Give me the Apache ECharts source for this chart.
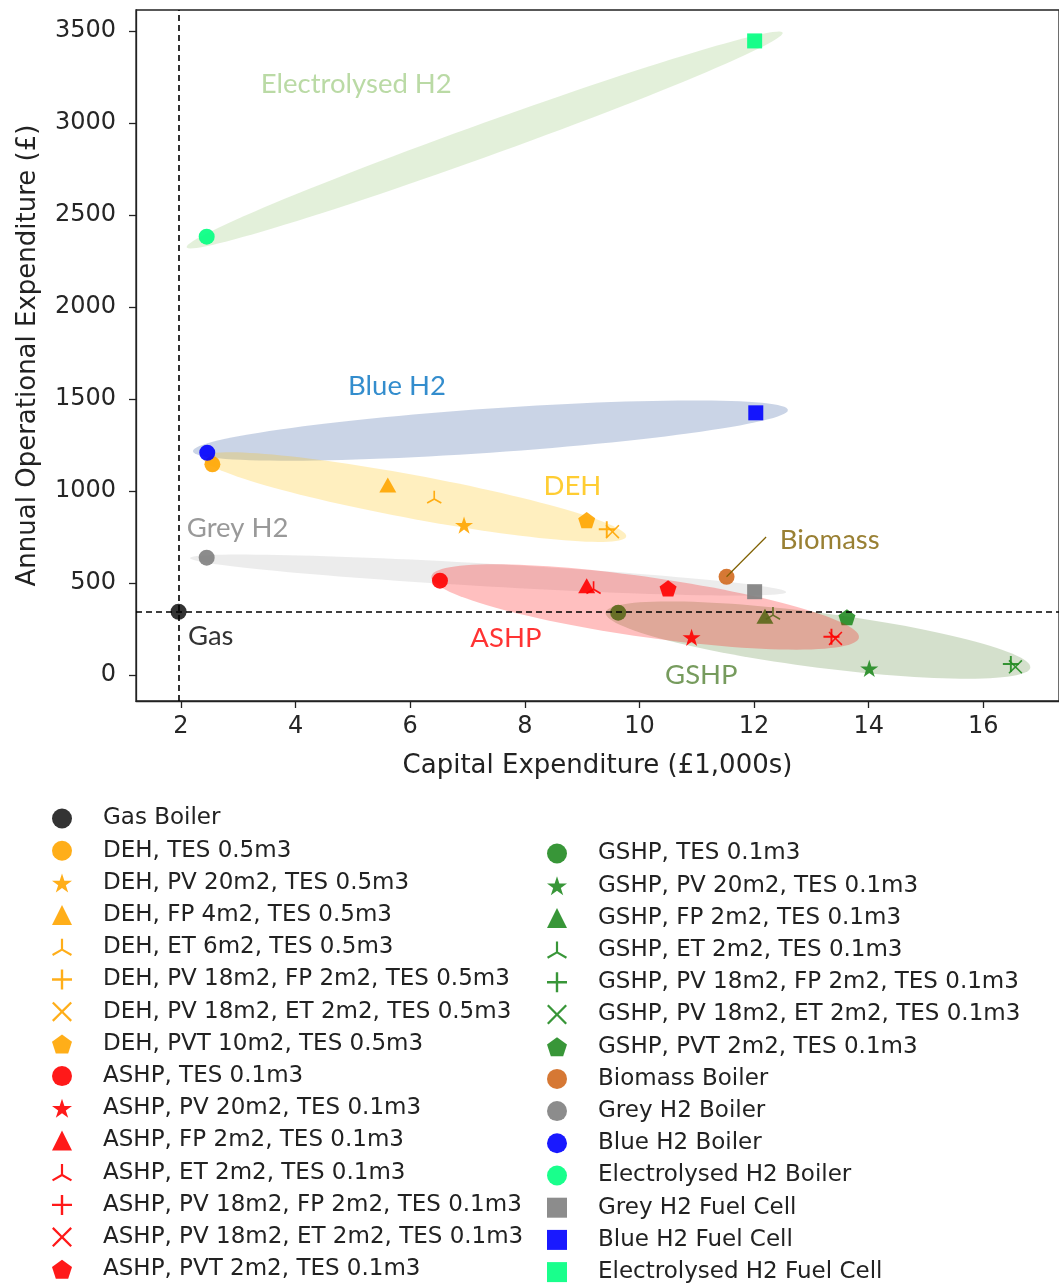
<!DOCTYPE html>
<html>
<head>
<meta charset="utf-8">
<script src="https://cdn.jsdelivr.net/npm/echarts@6/dist/echarts.min.js"></script>
<style>
  html, body { margin: 0; padding: 0; background: #fff; }
  #chart { width: 1059px; height: 1287px; }
</style>
</head>
<body>
<div id="chart"></div>
<script>
// ---- Data: capital expenditure (£1,000s) vs annual operational expenditure (£) ----
const dehNames = ['DEH, TES 0.5m3', 'DEH, PV 20m2, TES 0.5m3', 'DEH, FP 4m2, TES 0.5m3', 'DEH, ET 6m2, TES 0.5m3',
  'DEH, PV 18m2, FP 2m2, TES 0.5m3', 'DEH, PV 18m2, ET 2m2, TES 0.5m3', 'DEH, PVT 10m2, TES 0.5m3'];
const dehCapex = [2.55, 6.94, 5.61, 6.42, 9.43, 9.53, 9.08];
const dehOpex = [1145, 815, 1033, 966, 792, 779, 842];

const ashpNames = ['ASHP, TES 0.1m3', 'ASHP, PV 20m2, TES 0.1m3', 'ASHP, FP 2m2, TES 0.1m3', 'ASHP, ET 2m2, TES 0.1m3',
  'ASHP, PV 18m2, FP 2m2, TES 0.1m3', 'ASHP, PV 18m2, ET 2m2, TES 0.1m3', 'ASHP, PVT 2m2, TES 0.1m3'];
const ashpCapex = [6.52, 10.91, 9.08, 9.20, 13.35, 13.42, 10.50];
const ashpOpex = [513, 205, 485, 475, 208, 199, 471];

const gshpNames = ['GSHP, TES 0.1m3', 'GSHP, PV 20m2, TES 0.1m3', 'GSHP, FP 2m2, TES 0.1m3', 'GSHP, ET 2m2, TES 0.1m3',
  'GSHP, PV 18m2, FP 2m2, TES 0.1m3', 'GSHP, PV 18m2, ET 2m2, TES 0.1m3', 'GSHP, PVT 2m2, TES 0.1m3'];
const gshpCapex = [9.63, 14.01, 12.19, 12.33, 16.48, 16.56, 13.62];
const gshpOpex = [339, 36, 320, 335, 60, 45, 314];

const otherNames = ['Gas Boiler', 'Biomass Boiler', 'Grey H2 Boiler', 'Blue H2 Boiler', 'Electrolysed H2 Boiler',
  'Grey H2 Fuel Cell', 'Blue H2 Fuel Cell', 'Electrolysed H2 Fuel Cell'];
const otherCapex = [1.96, 11.52, 2.45, 2.46, 2.45, 12.01, 12.03, 12.01];
const otherOpex = [344, 534, 638, 1208, 2382, 453, 1425, 3446];

// Cluster envelopes: leftmost point, rightmost point, vertical half-width (data units)
const envelopeNames = ['Electrolysed H2', 'Blue H2', 'DEH', 'Grey H2', 'GSHP', 'ASHP'];
const envelopeX1 = [2.10, 2.21, 2.38, 2.16, 9.41, 6.37];
const envelopeY1 = [2326, 1217, 1179, 636, 337, 533];
const envelopeX2 = [12.50, 12.59, 9.77, 12.56, 16.82, 13.83];
const envelopeY2 = [3489, 1440, 755, 451, 43, 207];
const envelopeH = [95, 120, 120, 62, 150, 165];

// Group annotations
const annotationText = ['Electrolysed H2', 'Blue H2', 'DEH', 'Grey H2', 'Biomass', 'ASHP', 'GSHP', 'Gas'];
const annotationX = [5.06, 5.77, 8.83, 2.99, 13.32, 7.67, 11.08, 2.52];
const annotationY = [3212, 1571, 1027, 799, 734, 201, 0, 212];
const biomassLeader = [[11.52, 534], [12.21, 750]];

const xTicks = [2, 4, 6, 8, 10, 12, 14, 16];
const yTicks = [0, 500, 1000, 1500, 2000, 2500, 3000, 3500];

// ---- Styling ----
const FONT = 'DejaVu Sans';
const colors = {
  gas: '#000000', deh: '#ffa500', ashp: '#ff0000', gshp: '#228b22',
  biomass: '#d2691e', grey: '#808080', blue: '#0000ff', elec: '#00ff7f'
};
const envelopeFill = {
  'Electrolysed H2': 'rgba(169,209,142,0.33)',
  'Blue H2': 'rgba(95,125,180,0.33)',
  'DEH': 'rgba(255,192,0,0.25)',
  'Grey H2': 'rgba(170,170,170,0.22)',
  'GSHP': 'rgba(84,130,53,0.25)',
  'ASHP': 'rgba(255,0,0,0.25)'
};
const annotationColor = {
  'Electrolysed H2': '#a9d18e', 'Blue H2': '#0070c0', 'DEH': '#ffc000', 'Grey H2': '#808080',
  'Biomass': '#7f6000', 'ASHP': '#ff0000', 'GSHP': '#548235', 'Gas': '#000000'
};

// Marker shapes (matplotlib-like)
function polyPath(pts) {
  return 'path://M' + pts.map(p => p[0].toFixed(2) + ',' + p[1].toFixed(2)).join(' L') + ' Z';
}
function starPath() {
  const pts = [];
  for (let k = 0; k < 10; k++) {
    const r = k % 2 ? 19.1 : 50;
    const a = (-90 + 36 * k) * Math.PI / 180;
    pts.push([50 + r * Math.cos(a), 50 + r * Math.sin(a)]);
  }
  return polyPath(pts);
}
function pentagonPath() {
  const pts = [];
  for (let k = 0; k < 5; k++) {
    const a = (-90 + 72 * k) * Math.PI / 180;
    pts.push([50 + 50 * Math.cos(a), 50 + 50 * Math.sin(a)]);
  }
  return polyPath(pts);
}
const STAR = starPath();
const PENTAGON = pentagonPath();
const PLUS = 'path://M44,0 L56,0 L56,44 L100,44 L100,56 L56,56 L56,100 L44,100 L44,56 L0,56 L0,44 L44,44 Z';
const CROSS = 'path://M0,8 L8,0 L50,42 L92,0 L100,8 L58,50 L100,92 L92,100 L50,58 L8,100 L0,92 L42,50 Z';
const TRI = 'path://M45,0 L55,0 L55,47.11 L95.8,70.67 L90.8,79.33 L50,55.77 L9.2,79.33 L4.2,70.67 L45,47.11 Z';

const configSymbols = ['circle', STAR, 'triangle', TRI, PLUS, CROSS, PENTAGON];
const configSizes = [16, 18, [17, 15], 15, 16, 14, 17];

function pointSeries(name, x, y, color, symbol, size, z) {
  return {
    type: 'scatter', name, data: [[x, y]], symbol, symbolSize: size, symbolKeepAspect: true,
    itemStyle: { color, opacity: 0.9 }, z, silent: true
  };
}

const series = [];

// Envelopes (ASHP drawn above the GSHP markers)
function envelopeSeries(indices, z) {
  return {
    type: 'custom', z, silent: true, clip: true,
    data: indices.map(i => ({
      value: [envelopeX1[i], envelopeY1[i], envelopeX2[i], envelopeY2[i], envelopeH[i]],
      itemStyle: { color: envelopeFill[envelopeNames[i]] }
    })),
    encode: { x: [0, 2], y: [1, 3] },
    renderItem(params, api) {
      const x1 = api.value(0), y1 = api.value(1), x2 = api.value(2), y2 = api.value(3), h = api.value(4);
      const cx = (x1 + x2) / 2, cy = (y1 + y2) / 2, ax = (x2 - x1) / 2, ay = (y2 - y1) / 2;
      const pts = [];
      for (let k = 0; k < 120; k++) {
        const t = 2 * Math.PI * k / 120;
        pts.push(api.coord([cx + ax * Math.cos(t), cy + ay * Math.cos(t) + h * Math.sin(t)]));
      }
      return { type: 'polygon', shape: { points: pts }, style: { fill: api.visual('color') } };
    }
  };
}
series.push(envelopeSeries([0, 1, 2, 3, 4], 1));
series.push(envelopeSeries([5], 3));

// Gas boiler with reference lines
series.push({
  type: 'scatter', name: otherNames[0], data: [[otherCapex[0], otherOpex[0]]],
  symbol: 'circle', symbolSize: 16, itemStyle: { color: colors.gas }, z: 6, silent: true,
  markLine: {
    silent: true, symbol: 'none', animation: false,
    lineStyle: { color: '#000', type: [6, 4], width: 1.6 },
    label: { show: false },
    data: [{ xAxis: otherCapex[0] }, { yAxis: otherOpex[0] }]
  }
});

dehNames.forEach((n, i) => series.push(pointSeries(n, dehCapex[i], dehOpex[i], colors.deh, configSymbols[i], configSizes[i], 4)));
ashpNames.forEach((n, i) => series.push(pointSeries(n, ashpCapex[i], ashpOpex[i], colors.ashp, configSymbols[i], configSizes[i], 4)));
gshpNames.forEach((n, i) => series.push(pointSeries(n, gshpCapex[i], gshpOpex[i], colors.gshp, configSymbols[i], configSizes[i], 2)));

const otherColors = [colors.gas, colors.biomass, colors.grey, colors.blue, colors.elec, colors.grey, colors.blue, colors.elec];
const otherSymbols = ['circle', 'circle', 'circle', 'circle', 'circle', 'rect', 'rect', 'rect'];
for (let i = 1; i < otherNames.length; i++) {
  series.push(pointSeries(otherNames[i], otherCapex[i], otherOpex[i], otherColors[i], otherSymbols[i],
    otherSymbols[i] === 'rect' ? 15 : 16, 4));
}

// Biomass leader line
series.push({
  type: 'line', data: biomassLeader, symbol: 'none', silent: true, z: 5,
  lineStyle: { color: '#7f6000', width: 1.2 }
});

// Group labels
series.push({
  type: 'scatter', symbolSize: 1, silent: true, z: 7,
  itemStyle: { color: 'rgba(0,0,0,0)' },
  data: annotationText.map((t, i) => ({
    name: t, value: [annotationX[i], annotationY[i]],
    label: { color: annotationColor[t] }
  })),
  label: {
    show: true, position: 'inside', formatter: p => p.name,
    fontFamily: 'Lato', fontSize: 27.5
  }
});

const legendText = { fontFamily: FONT, fontSize: 23, color: '#222', padding: [0, 0, 0, 26] };
const leftLegend = [otherNames[0]].concat(dehNames, ashpNames);
const rightLegend = gshpNames.concat(otherNames.slice(1));

const option = {
  animation: false,
  backgroundColor: '#ffffff',
  grid: { left: 136, top: 10, right: -2, bottom: 586, show: true, borderColor: '#222', borderWidth: 1.3 },
  xAxis: {
    type: 'value', min: 1.217, max: 17.32,
    name: 'Capital Expenditure (£1,000s)', nameLocation: 'middle', nameGap: 52,
    nameTextStyle: { fontFamily: FONT, fontSize: 26, color: '#222' },
    axisLine: { show: true, onZero: false, lineStyle: { color: '#222', width: 1.3 } },
    axisTick: { show: true, length: 7, customValues: xTicks, lineStyle: { color: '#222', width: 1.3 } },
    axisLabel: { customValues: xTicks, margin: 14, fontFamily: FONT, fontSize: 24, color: '#262626' },
    splitLine: { show: false }
  },
  yAxis: {
    type: 'value', min: -141, max: 3614,
    name: 'Annual Operational Expenditure (£)', nameLocation: 'middle', nameGap: 95,
    nameTextStyle: { fontFamily: FONT, fontSize: 26, color: '#222' },
    axisLine: { show: true, onZero: false, lineStyle: { color: '#222', width: 1.3 } },
    axisTick: { show: true, length: 7, customValues: yTicks, lineStyle: { color: '#222', width: 1.3 } },
    axisLabel: { customValues: yTicks, margin: 20, fontFamily: FONT, fontSize: 24, color: '#262626',
      formatter: v => String(v) },
    splitLine: { show: false }
  },
  legend: [
    {
      data: leftLegend, orient: 'vertical', left: 52, top: 807, height: 479, padding: 0,
      itemWidth: 20, itemHeight: 20, itemGap: 9.2, selectedMode: false, textStyle: legendText, symbolKeepAspect: true
    },
    {
      data: rightLegend, orient: 'vertical', left: 547, top: 842, height: 444, padding: 0,
      itemWidth: 20, itemHeight: 20, itemGap: 9.2, selectedMode: false, textStyle: legendText, symbolKeepAspect: true
    }
  ],
  series
};

const chart = echarts.init(document.getElementById('chart'), null, { renderer: 'canvas' });
chart.setOption(option);
</script>
</body>
</html>
